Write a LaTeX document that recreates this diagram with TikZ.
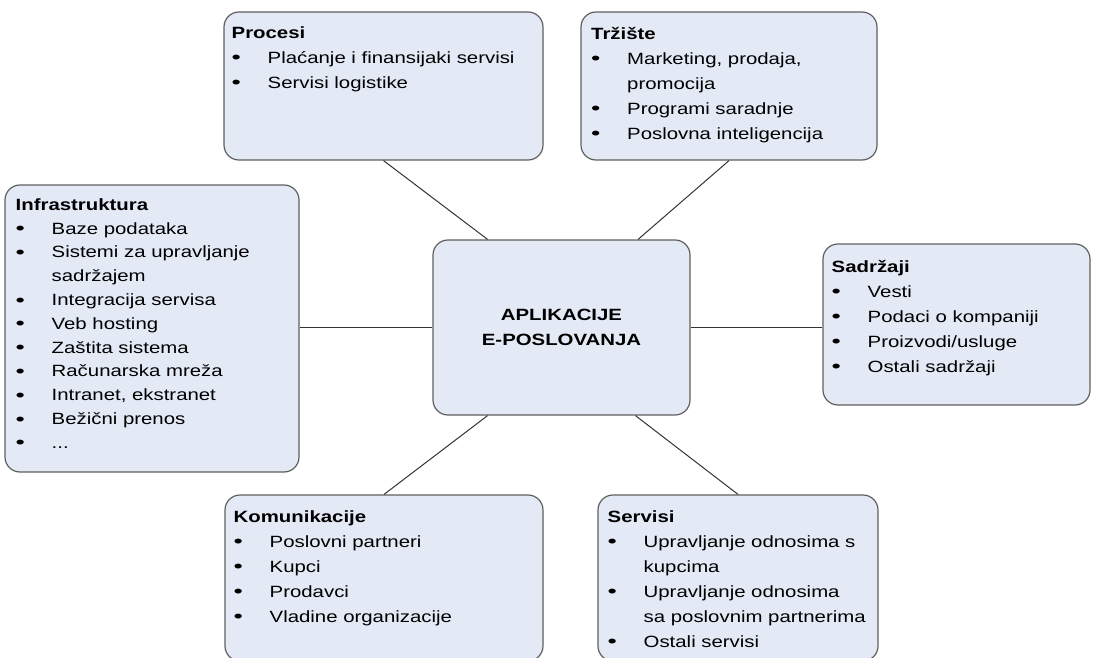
\documentclass[tikz,border=0pt]{standalone}
\usepackage{fontspec}
\usepackage{graphicx}
\setmainfont{Liberation Sans}[FakeStretch=1.25]
\definecolor{boxfill}{RGB}{227,233,245}
\definecolor{boxline}{RGB}{95,95,95}
\newcommand{\bul}{\makebox[36pt][l]{\raisebox{-0.6pt}{\scalebox{1.3}[1.1]{\textbullet}}}}
\newcommand{\cnt}{\hspace*{36pt}}
\newcommand{\ttl}[1]{\rule{0pt}{13pt}\textbf{#1}}
\begin{document}
\begin{tikzpicture}[x=1pt, y=-1pt,
  box/.style={draw=boxline, line width=1.2pt, fill=boxfill, rounded corners=15pt, inner sep=0pt},
  txt/.style={anchor=north west, align=left, inner sep=0pt, font=\fontsize{16.3}{25}\selectfont},
  link/.style={draw=black!80, line width=1pt}]
  \useasboundingbox (0,0) rectangle (1095,658);
  % boxes
  \node[box, minimum width=319pt, minimum height=148pt] (procesi) at (383.5,86){};
  \node[box, minimum width=296pt, minimum height=148pt] (trziste) at (729,86){};
  \node[box, minimum width=294pt, minimum height=287pt] (infra) at (152,328.5){};
  \node[box, minimum width=257pt, minimum height=175pt, align=center,
        font=\fontsize{16.3}{25}\selectfont\bfseries] (app) at (561.5,327.5){APLIKACIJE\\E-POSLOVANJA};
  \node[box, minimum width=267pt, minimum height=161pt] (sadrzaji) at (956.5,324.5){};
  \node[box, minimum width=318pt, minimum height=166pt] (komun) at (384,578){};
  \node[box, minimum width=280pt, minimum height=166pt] (servisi) at (738,578){};
  % texts
  \node[txt] (procesiT) at (231.5,25){\ttl{Procesi}\\
    \bul Plaćanje i finansijaki servisi\\
    \bul Servisi logistike};
  \node[txt] (trzisteT) at (591,26){\ttl{Tržište}\\
    \bul Marketing, prodaja,\\
    \cnt promocija\\
    \bul Programi saradnje\\
    \bul Poslovna inteligencija};
  \node[txt, font=\fontsize{16.3}{23.8}\selectfont] (infraT) at (15.5,197){\ttl{Infrastruktura}\\
    \bul Baze podataka\\
    \bul Sistemi za upravljanje\\
    \cnt sadržajem\\
    \bul Integracija servisa\\
    \bul Veb hosting\\
    \bul Zaštita sistema\\
    \bul Računarska mreža\\
    \bul Intranet, ekstranet\\
    \bul Bežični prenos\\
    \bul ...};
  \node[txt] (sadrzajiT) at (831.5,259){\ttl{Sadržaji}\\
    \bul Vesti\\
    \bul Podaci o kompaniji\\
    \bul Proizvodi/usluge\\
    \bul Ostali sadržaji};
  \node[txt] (komunT) at (233.5,509){\ttl{Komunikacije}\\
    \bul Poslovni partneri\\
    \bul Kupci\\
    \bul Prodavci\\
    \bul Vladine organizacije};
  \node[txt] (servisiT) at (607.5,509){\ttl{Servisi}\\
    \bul Upravljanje odnosima s\\
    \cnt kupcima\\
    \bul Upravljanje odnosima\\
    \cnt sa poslovnim partnerima\\
    \bul Ostali servisi};
  % connectors
  \draw[link] (procesi.south) -- (app.130);
  \draw[link] (trziste.south) -- (app.49);
  \draw[link] (infra.east |- app.west) -- (app.west);
  \draw[link] (app.east) -- (sadrzaji.west |- app.east);
  \draw[link] (komun.north) -- (app.230);
  \draw[link] (servisi.north) -- (app.310);
\end{tikzpicture}
\end{document}
